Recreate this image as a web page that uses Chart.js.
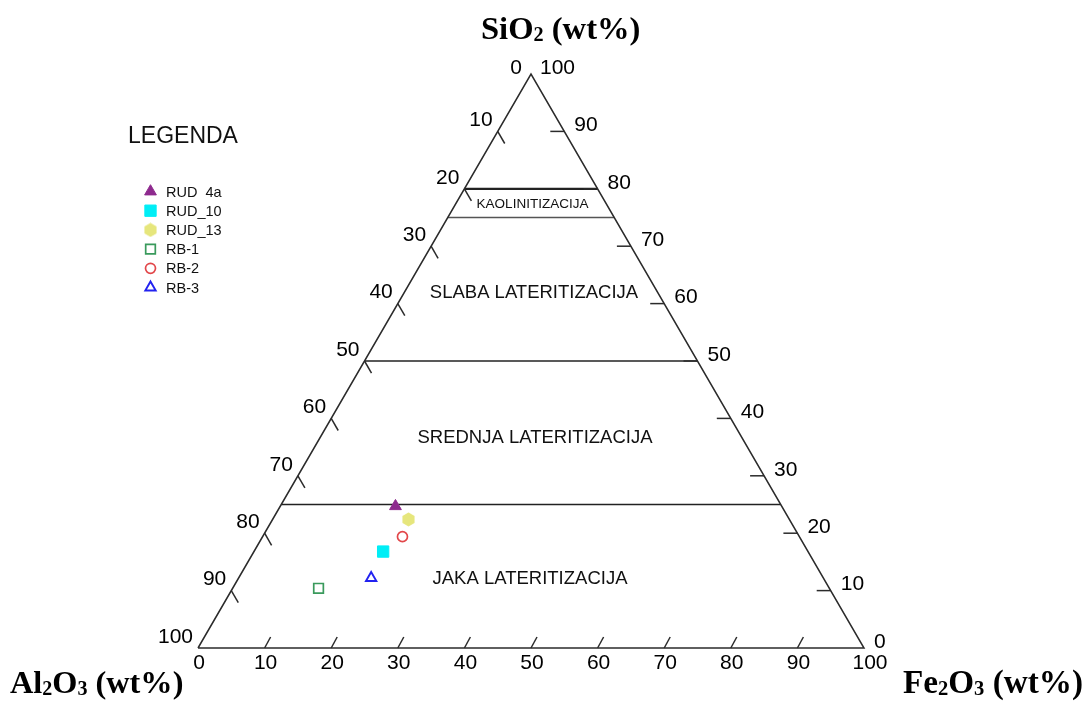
<!DOCTYPE html>
<html><head><meta charset="utf-8">
<script src="https://cdn.jsdelivr.net/npm/chart.js@4.4.1/dist/chart.umd.min.js"></script>
<style>html,body{margin:0;padding:0;background:#fff;}canvas{display:block;}</style>
</head><body>
<canvas id="c" width="1086" height="704"></canvas>
<script>
// ---- data (ternary wt%) ----
const sampleNames = ['RUD  4a', 'RUD_10', 'RUD_13', 'RB-1', 'RB-2', 'RB-3'];
const sio2  = [24.7, 16.8, 22.4, 10.4, 19.4, 12.2];
const fe2o3 = [17.3, 19.4, 20.4, 12.9, 21.0, 19.9];
const al2o3 = [58.0, 63.8, 57.2, 76.7, 59.6, 67.9];
const axisTicks = [0, 10, 20, 30, 40, 50, 60, 70, 80, 90, 100];
const zoneBounds = [80, 75, 50, 25];            // SiO2 wt% of zone limits
const zoneNames = ['KAOLINITIZACIJA', 'SLABA LATERITIZACIJA', 'SREDNJA LATERITIZACIJA', 'JAKA LATERITIZACIJA'];

// ternary -> cartesian (x = Fe2O3 + SiO2/2, y = SiO2)
const tern = (si, fe) => ({ x: fe + si / 2, y: si });

function hexImg(color, size) {
  const c = document.createElement('canvas');
  c.width = c.height = size;
  const g = c.getContext('2d');
  g.fillStyle = color;
  g.beginPath();
  const r = size / 2;
  for (let i = 0; i < 6; i++) {
    const a = -Math.PI / 2 + i * Math.PI / 3;
    const px = r + (r - 0.5) * Math.cos(a), py = r + (r - 0.5) * Math.sin(a);
    i ? g.lineTo(px, py) : g.moveTo(px, py);
  }
  g.closePath(); g.fill();
  return c;
}

const styles = [
  { pointStyle: 'triangle', radius: 6.8, bg: '#8E2A8E', border: '#8E2A8E', bw: 1 },
  { pointStyle: 'rect', radius: 8, bg: '#00EEF6', border: '#00EEF6', bw: 1 },
  { pointStyle: hexImg('#E6E67C', 15), radius: 7.5, bg: '#E6E67C', border: '#E6E67C', bw: 1 },
  { pointStyle: 'rect', radius: 6.8, bg: 'rgba(0,0,0,0)', border: '#3A9A5C', bw: 1.7 },
  { pointStyle: 'circle', radius: 5, bg: 'rgba(0,0,0,0)', border: '#E2474A', bw: 1.7 },
  { pointStyle: 'triangle', radius: 6, bg: 'rgba(0,0,0,0)', border: '#2222F0', bw: 1.9 }
];

const pointSets = sampleNames.map((name, i) => ({
  label: name,
  data: [tern(sio2[i], fe2o3[i])],
  pointStyle: styles[i].pointStyle,
  pointRadius: styles[i].radius,
  pointBackgroundColor: styles[i].bg,
  pointBorderColor: styles[i].border,
  pointBorderWidth: styles[i].bw,
  showLine: false,
  order: 0,
  clip: false
}));

const lineSet = (label, data, width, color) => ({
  label, data, showLine: true, pointRadius: 0, borderColor: color, borderWidth: width,
  borderJoinStyle: 'miter', fill: false, order: 1, clip: false
});

const frame = lineSet('frame', [tern(0, 0), tern(0, 100), tern(100, 0), tern(0, 0)], 1.5, '#2b2b2b');
const zoneWidths = [2.2, 1.3, 1.5, 1.5];
const zoneColors = ['#222', '#555', '#222', '#222'];
const zoneLines = zoneBounds.map((s, i) => lineSet('zone' + s, [tern(s, 0), tern(s, 100 - s)], zoneWidths[i], zoneColors[i]));

const decor = {
  id: 'decor',
  afterDraw(chart) {
    const ctx = chart.ctx, xs = chart.scales.x, ys = chart.scales.y;
    const P = (si, fe) => { const t = tern(si, fe); return [xs.getPixelForValue(t.x), ys.getPixelForValue(t.y)]; };
    ctx.save();
    // tick marks
    ctx.strokeStyle = '#2b2b2b'; ctx.lineWidth = 1.5;
    const seg = (a, dx, dy) => { ctx.beginPath(); ctx.moveTo(a[0], a[1]); ctx.lineTo(a[0] + dx, a[1] + dy); ctx.stroke(); };
    axisTicks.forEach(v => {
      if (v === 0 || v === 100) return;
      seg(P(100 - v, 0), 7, 12.1);        // left side (Al2O3)
      seg(P(v, 100 - v), -14, 0);         // right side (SiO2)
      seg(P(0, v), 6, -11);               // bottom (Fe2O3)
    });
    // tick labels
    ctx.fillStyle = '#000';
    ctx.font = '21px "Liberation Sans", Arial, sans-serif';
    ctx.textBaseline = 'middle';
    axisTicks.forEach(v => {
      let p = P(100 - v, 0);
      ctx.textAlign = 'right';
      if (v === 0) ctx.fillText(String(v), p[0] - 9, p[1] - 6);
      else ctx.fillText(String(v), p[0] - 5, p[1] - 11);
      p = P(v, 100 - v);
      ctx.textAlign = 'left';
      if (v === 100) ctx.fillText(String(v), p[0] + 9, p[1] - 6);
      else ctx.fillText(String(v), p[0] + 10, p[1] - 6);
      p = P(0, v);
      ctx.textAlign = 'center';
      ctx.fillText(String(v), p[0] + (v === 100 ? 6 : 1), p[1] + 15);
    });
    // zone names
    zoneNames.forEach((name, i) => {
      const hi = zoneBounds[i], lo = i + 1 < zoneBounds.length ? zoneBounds[i + 1] : 0;
      const mid = (hi + lo) / 2;
      const dx = [1.5, 3, 4, -1][i];
      const dy = [1, 3.5, 5, 3][i];
      ctx.font = (i === 0 ? '13.5px' : '18.5px') + ' "Liberation Sans", Arial, sans-serif';
      ctx.textAlign = 'center';
      ctx.fillStyle = '#111';
      ctx.fillText(name, xs.getPixelForValue(50) + dx, ys.getPixelForValue(mid) + dy);
    });
    // titles with subscripts
    const title = (parts, x, y, size) => {
      ctx.textAlign = 'left'; ctx.textBaseline = 'alphabetic'; ctx.fillStyle = '#000';
      let cx = x;
      parts.forEach(([t, sub]) => {
        const s = sub ? size * 0.62 : size;
        ctx.font = 'bold ' + s + 'px "Liberation Serif", "Times New Roman", serif';
        ctx.fillText(t, cx, y + (sub ? 2 : 0));
        cx += ctx.measureText(t).width;
      });
    };
    title([['SiO'], ['2', 1], [' (wt%)']], 481, 39, 32.6);
    title([['Al'], ['2', 1], ['O'], ['3', 1], [' (wt%)']], 10, 693, 32.3);
    title([['Fe'], ['2', 1], ['O'], ['3', 1], [' (wt%)']], 903, 693, 33.2);
    // legend
    ctx.fillStyle = '#111'; ctx.textBaseline = 'middle';
    ctx.font = '23px "Liberation Sans", Arial, sans-serif';
    ctx.textAlign = 'center';
    ctx.fillText('LEGENDA', 183, 137);
    ctx.font = '14.5px "Liberation Sans", Arial, sans-serif';
    ctx.textAlign = 'left';
    pointSets.forEach((ds, i) => {
      const y = 191.5 + i * 19.2, x = 150.5;
      ctx.save();
      ctx.fillStyle = ds.pointBackgroundColor; ctx.strokeStyle = ds.pointBorderColor; ctx.lineWidth = ds.pointBorderWidth;
      Chart.helpers.drawPoint(ctx, { pointStyle: ds.pointStyle, radius: ds.pointRadius, rotation: 0, borderWidth: ds.pointBorderWidth }, x, y);
      ctx.restore();
      ctx.fillStyle = '#111';
      ctx.fillText(ds.label, 166, y + 1);
    });
    ctx.restore();
  }
};

new Chart(document.getElementById('c'), {
  type: 'scatter',
  data: { datasets: pointSets.concat([frame]).concat(zoneLines) },
  options: {
    responsive: false, devicePixelRatio: 1, animation: false,
    layout: { padding: { left: 198, right: 222, top: 74, bottom: 56 } },
    scales: {
      x: { type: 'linear', min: 0, max: 100, display: false },
      y: { type: 'linear', min: 0, max: 100, display: false }
    },
    plugins: { legend: { display: false }, tooltip: { enabled: false } }
  },
  plugins: [decor]
});
</script>
</body></html>
